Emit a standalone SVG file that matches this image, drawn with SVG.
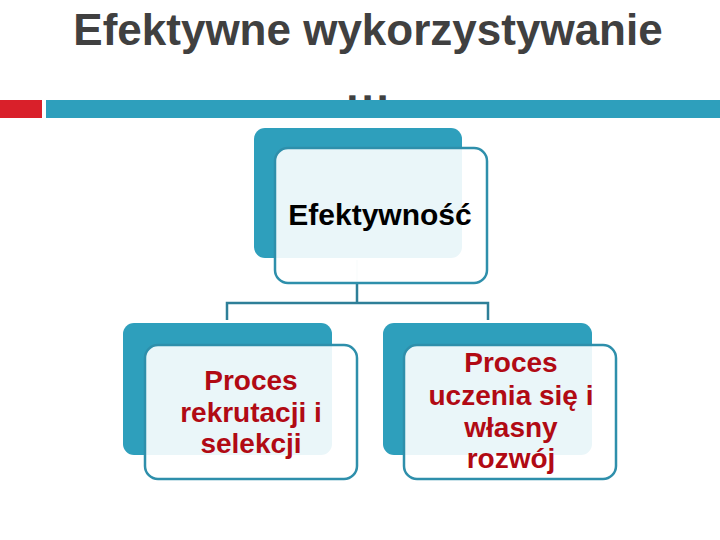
<svg xmlns="http://www.w3.org/2000/svg" width="720" height="540" viewBox="0 0 720 540">
<style>
.title{font-family:"Liberation Sans",Arial,sans-serif;font-weight:bold;font-size:44px;fill:#404040;text-anchor:middle}
.back{fill:#2e9fbc}
.front{fill:#ffffff;fill-opacity:0.9;stroke:#2e8fab;stroke-width:2.5}
.lbl{font-family:"Liberation Sans",Arial,sans-serif;font-weight:bold;font-size:28px;fill:#b10a14;text-anchor:middle}
.top{font-family:"Liberation Sans",Arial,sans-serif;font-weight:bold;font-size:30px;fill:#000000;text-anchor:middle}
.conn{fill:none;stroke:#2e7f98;stroke-width:2.5}
</style>
<rect width="720" height="540" fill="#ffffff"/>
<text class="title" x="368" y="45">Efektywne wykorzystywanie</text>
<text class="title" x="369" y="102" letter-spacing="3">...</text>
<rect x="0" y="100" width="42" height="18" fill="#d9202a"/>
<rect x="46" y="100" width="674" height="18" fill="#2e9fbc"/>
<g id="connectors">
<path class="conn" d="M357,284 V303 M227,320 V303 H488 V320"/>
<path d="M357,260 V284" stroke="#d8e6ea" stroke-width="2" fill="none"/>
</g>
<g id="node-efektywnosc">
<rect class="back" x="254" y="128" width="208" height="130" rx="11"/>
<rect class="front" x="275" y="148" width="212" height="135" rx="13"/>
<text class="top" x="380" y="225">Efektywność</text>
</g>
<g id="node-rekrutacja">
<rect class="back" x="123" y="323" width="209" height="132" rx="11"/>
<rect class="front" x="145" y="345" width="212" height="134" rx="13"/>
<text class="lbl" x="251" y="390">Proces</text>
<text class="lbl" x="251" y="422">rekrutacji i</text>
<text class="lbl" x="251" y="453">selekcji</text>
</g>
<g id="node-rozwoj">
<rect class="back" x="383" y="323" width="209" height="132" rx="11"/>
<rect class="front" x="404" y="345" width="212" height="134" rx="13"/>
<text class="lbl" x="511" y="372">Proces</text>
<text class="lbl" x="511" y="405">uczenia się i</text>
<text class="lbl" x="511" y="437">własny</text>
<text class="lbl" x="511" y="468">rozwój</text>
</g>
</svg>
